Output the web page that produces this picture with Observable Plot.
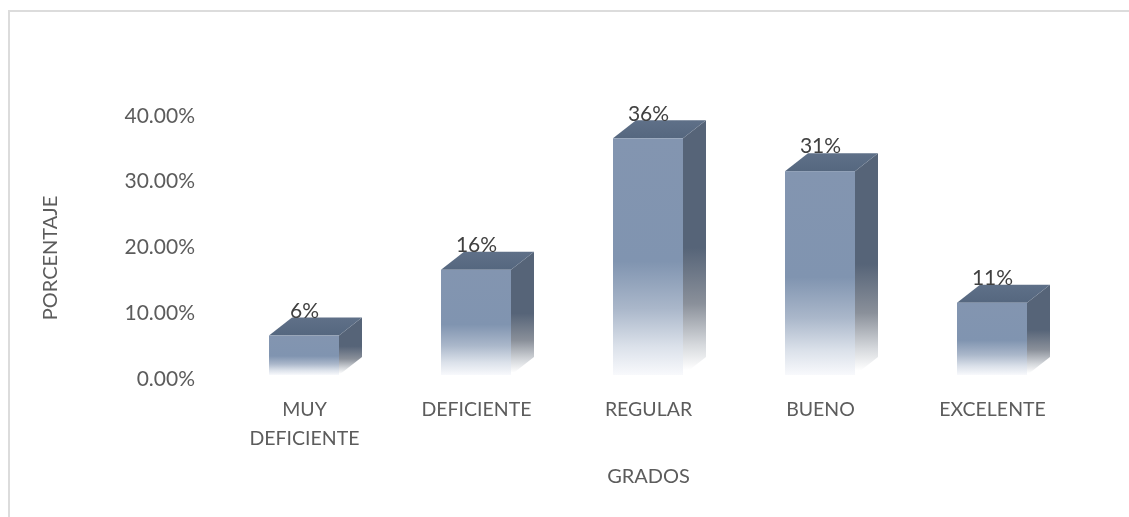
<!DOCTYPE html>
<html lang="es">
<head>
<meta charset="utf-8">
<script src="https://cdn.jsdelivr.net/npm/d3@7"></script>
<script src="https://cdn.jsdelivr.net/npm/@observablehq/plot@0.6"></script>
<style>
  html, body { margin: 0; padding: 0; background: #fff; overflow: hidden; }
  #chart { position: relative; width: 1129px; height: 517px; }
  #chart::before {
    content: ""; position: absolute; left: 8px; top: 10px; right: 0; bottom: 0;
    border-top: 2px solid #dcdcdc; border-left: 2px solid #dcdcdc;
  }
  #chart svg { position: absolute; left: 0; top: 0; background: transparent; will-change: opacity; }
</style>
</head>
<body>
<div id="chart"></div>
<script>
// Distribución por grados, en porcentaje
const grados = ["MUY\nDEFICIENTE", "DEFICIENTE", "REGULAR", "BUENO", "EXCELENTE"];
const porcentajes = [6, 16, 36, 31, 11];
const marcasEje = [0, 10, 20, 30, 40];

const filas = grados.map((grado, i) => ({grado, valor: porcentajes[i]}));
const fuente = "Lato, 'Open Sans', sans-serif";
const depthX = 23, depthY = 18;

// Gradients shared by the three visible faces of each column
function gradientes() {
  const defs = d3.create("svg:defs");
  const add = (id, stops, x2 = 0, y2 = 1) => {
    const g = defs.append("linearGradient").attr("id", id)
      .attr("x1", 0).attr("y1", 0).attr("x2", x2).attr("y2", y2);
    for (const [o, c] of stops) g.append("stop").attr("offset", o).attr("stop-color", c);
  };
  add("caraFrontal", [[0, "#8395b0"], [0.52, "#8094b0"], [0.72, "#aab7ca"], [0.88, "#dbe1ea"], [1, "#f8f9fc"]]);
  add("caraLateral", [[0, "#566478"], [0.5, "#566478"], [0.72, "#8a909a"], [0.88, "#d5d8dc"], [0.98, "#ffffff"]]);
  add("caraSuperior", [[0, "#5f7088"], [1, "#55677f"]]);
  return defs.node();
}

// Side and top faces of each column, positioned from the x and y scales
function carasProfundidad(index, {x, y}) {
  const g = d3.create("svg:g");
  const w = typeof x.bandwidth === "function" ? x.bandwidth() : x.bandwidth;
  const y0 = y(0);
  for (const d of filas) {
    const x0 = x(d.grado);
    const x1 = x0 + w;
    const yv = y(d.valor);
    g.append("polygon").attr("fill", "url(#caraLateral)")
      .attr("points", [[x1, yv], [x1 + depthX, yv - depthY], [x1 + depthX, y0 - depthY], [x1, y0]].join(" "));
    g.append("polygon").attr("fill", "url(#caraSuperior)")
      .attr("points", [[x0, yv], [x0 + depthX, yv - depthY], [x1 + depthX, yv - depthY], [x1, yv]].join(" "));
  }
  return g.node();
}

const plot = Plot.plot({
  width: 1129,
  height: 517,
  marginLeft: 217.5,
  marginRight: 50.5,
  marginTop: 112,
  marginBottom: 142,
  style: {fontFamily: fuente, background: "transparent"},
  x: {domain: grados, paddingInner: 0.595, paddingOuter: 0.2975},
  y: {domain: [0, 40]},
  marks: [
    gradientes,
    carasProfundidad,
    Plot.barY(filas, {x: "grado", y: "valor", fill: "url(#caraFrontal)"}),
    Plot.axisY({
      ticks: marcasEje, tickSize: 0, tickPadding: 23, dy: 3.5, fontSize: 21, fill: "#5c5c5c",
      tickFormat: d => d.toFixed(2) + "%", label: null
    }),
    Plot.axisX({
      tickSize: 0, tickPadding: 20, fontSize: 19.5, fill: "#5c5c5c", lineHeight: 1.49, label: null
    }),
    Plot.text(filas, {
      x: "grado", y: "valor", text: d => d.valor + "%",
      dy: -25, fontSize: 21, fill: "#404040", lineAnchor: "middle"
    }),
    Plot.text(["PORCENTAJE"], {
      frameAnchor: "left", rotate: -90, dx: -167, dy: 14, fontSize: 20, fill: "#5c5c5c",
      textAnchor: "middle"
    }),
    Plot.text(["GRADOS"], {
      frameAnchor: "bottom", dy: 101, fontSize: 20, fill: "#5c5c5c", lineAnchor: "middle"
    })
  ]
});
document.getElementById("chart").append(plot);
</script>
</body>
</html>
